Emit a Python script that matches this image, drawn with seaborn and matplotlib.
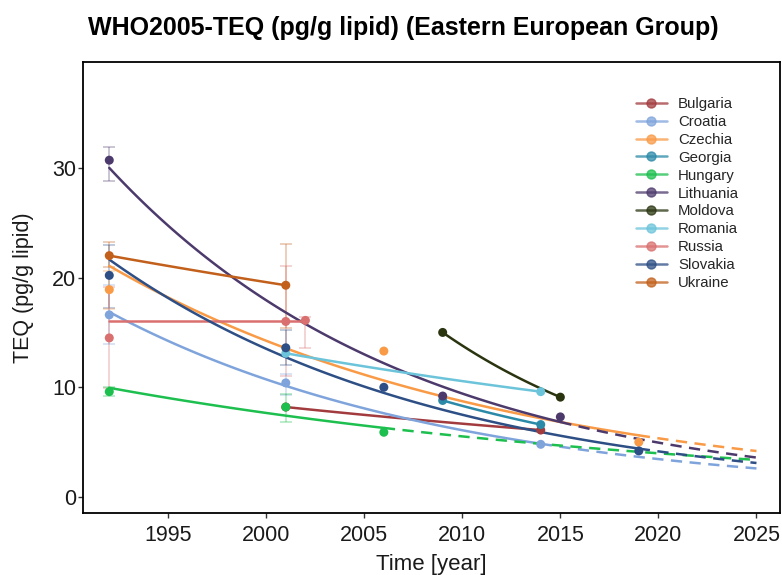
import numpy as np
import pandas as pd
import matplotlib
matplotlib.use("Agg")
import matplotlib.pyplot as plt
from matplotlib.lines import Line2D
import seaborn as sns

# ---------------- data ----------------
countries = ["Bulgaria", "Croatia", "Czechia", "Georgia", "Hungary", "Lithuania",
             "Moldova", "Romania", "Russia", "Slovakia", "Ukraine"]
colors = ["#A23B3E", "#7FA4DC", "#F99A46", "#2B8AA8", "#1DBF4E", "#4D3A6C",
          "#2A3510", "#6CC4DA", "#D9706F", "#2D4F85", "#C2601B"]

pt_country = ["Bulgaria", "Bulgaria",
              "Croatia", "Croatia", "Croatia",
              "Czechia", "Czechia", "Czechia",
              "Georgia", "Georgia",
              "Hungary", "Hungary", "Hungary",
              "Lithuania", "Lithuania", "Lithuania",
              "Moldova", "Moldova",
              "Romania", "Romania",
              "Russia", "Russia", "Russia",
              "Slovakia", "Slovakia", "Slovakia", "Slovakia",
              "Ukraine", "Ukraine"]
pt_year = [2001, 2014,
           1992, 2001, 2014,
           1992, 2006, 2019,
           2009, 2014,
           1992, 2001, 2006,
           1992, 2009, 2015,
           2009, 2015,
           2001, 2014,
           1992, 2001, 2002,
           1992, 2001, 2006, 2019,
           1992, 2001]
pt_value = [8.2, 6.1,
            16.6, 10.4, 4.8,
            18.9, 13.3, 5.0,
            8.8, 6.6,
            9.6, 8.2, 5.9,
            30.7, 9.2, 7.3,
            15.0, 9.1,
            13.1, 9.6,
            14.5, 16.0, 16.1,
            20.2, 13.6, 10.0, 4.2,
            22.0, 19.3]

# error bars (low / high of the interval)
err_country = ["Lithuania", "Ukraine", "Slovakia", "Czechia", "Croatia", "Russia", "Hungary",
               "Ukraine", "Russia", "Slovakia", "Croatia", "Hungary", "Russia"]
err_year = [1992, 1992, 1992, 1992, 1992, 1992, 1992,
            2001, 2001, 2001, 2001, 2001, 2002]
err_low = [28.8, 21.0, 17.2, 17.1, 13.9, 9.9, 9.2,
           15.4, 11.0, 12.0, 9.3, 6.8, 13.6]
err_high = [31.9, 23.2, 23.0, 20.6, 19.3, 19.1, 10.0,
            23.1, 21.1, 15.2, 11.2, 9.4, 16.4]

# countries with a projection (dashed) to 2025, and countries with a flat trend level
projected = ["Croatia", "Czechia", "Hungary", "Lithuania", "Slovakia"]
projection_end = 2025
flat_trend_level = {"Russia": 16.0}

xticks = [1995, 2000, 2005, 2010, 2015, 2020, 2025]
yticks = [0, 10, 20, 30]

title = "WHO2005-TEQ (pg/g lipid) (Eastern European Group)"
xlabel = "Time [year]"
ylabel = "TEQ (pg/g lipid)"

# ---------------- plotting ----------------
sns.set_theme(style="white")
plt.rcParams["font.family"] = ["Liberation Sans", "DejaVu Sans"]

palette = dict(zip(countries, colors))
pts = pd.DataFrame({"country": pt_country, "year": pt_year, "value": pt_value})
errs = pd.DataFrame({"country": err_country, "year": err_year,
                     "low": err_low, "high": err_high})

W, H = 782, 575
fig = plt.figure(figsize=(W / 100, H / 100), dpi=100)
L, R, T, B = 83, 780, 62, 513
ax = fig.add_axes([L / W, 1 - B / H, (R - L) / W, (B - T) / H])

# error bars
for _, r in errs.iterrows():
    c = palette[r["country"]]
    mid = (r["low"] + r["high"]) / 2
    ax.errorbar(r["year"], mid, yerr=[[mid - r["low"]], [r["high"] - mid]],
                fmt="none", ecolor=c, alpha=0.35, elinewidth=1.2, capsize=4,
                capthick=1.2, zorder=1)

# trend curves
for ctry in countries:
    d = pts[pts.country == ctry].sort_values("year")
    x = d["year"].to_numpy(float)
    y = d["value"].to_numpy(float)
    x0, x1 = x.min(), x.max()
    if ctry in flat_trend_level:
        lvl = flat_trend_level[ctry]
        f = lambda t, lvl=lvl: np.full_like(t, lvl)
    else:
        b, a = np.polyfit(x, np.log(y), 1)
        f = lambda t, a=a, b=b: np.exp(a + b * t)
    ts = np.linspace(x0, x1, 120)
    sns.lineplot(x=ts, y=f(ts), color=palette[ctry], lw=1.8, ax=ax,
                 estimator=None, sort=False, zorder=2)
    if ctry in projected:
        tp = np.linspace(x1, projection_end, 60)
        sns.lineplot(x=tp, y=f(tp), color=palette[ctry], lw=1.8, ax=ax,
                     estimator=None, sort=False, zorder=2,
                     linestyle=(0, (4.5, 3)))

# points
sns.scatterplot(data=pts, x="year", y="value", hue="country", palette=palette,
                hue_order=countries, s=42, edgecolor="none", ax=ax, zorder=3,
                legend=False)

ax.set_xlim(1990.66, 2026.2)
ax.set_ylim(-1.46, 39.65)
ax.set_xticks(xticks)
ax.set_yticks(yticks)
ax.tick_params(axis="both", which="major", direction="out", length=3.5, width=1,
               color="#333333", labelsize=15.5, labelcolor="#1a1a1a",
               bottom=True, left=True)
ax.tick_params(axis="x", pad=5)
ax.tick_params(axis="y", pad=1.5)
for s in ax.spines.values():
    s.set_visible(True)
    s.set_color("black")
    s.set_linewidth(1.3)

ax.set_xlabel(xlabel, fontsize=16, color="#1a1a1a", labelpad=6)
ax.set_ylabel(ylabel, fontsize=15.5, color="#1a1a1a", labelpad=13)

fig.text(403 / W, 1 - 35 / H, title, ha="center", va="baseline",
         fontsize=18, fontweight="bold", color="black")

handles = [Line2D([0], [0], color=c, lw=1.8, alpha=0.75, marker="o",
                  markersize=6.5, markerfacecolor=c, markeredgecolor=c)
           for c in colors]
ax.legend(handles, countries, loc="upper left",
          bbox_to_anchor=(636 / W, 1 - 97 / H), bbox_transform=fig.transFigure,
          frameon=False, fontsize=10.8, handlelength=2.05, handletextpad=0.75,
          labelspacing=0.26, borderpad=0, borderaxespad=0)

fig.savefig("out.png", dpi=100)
